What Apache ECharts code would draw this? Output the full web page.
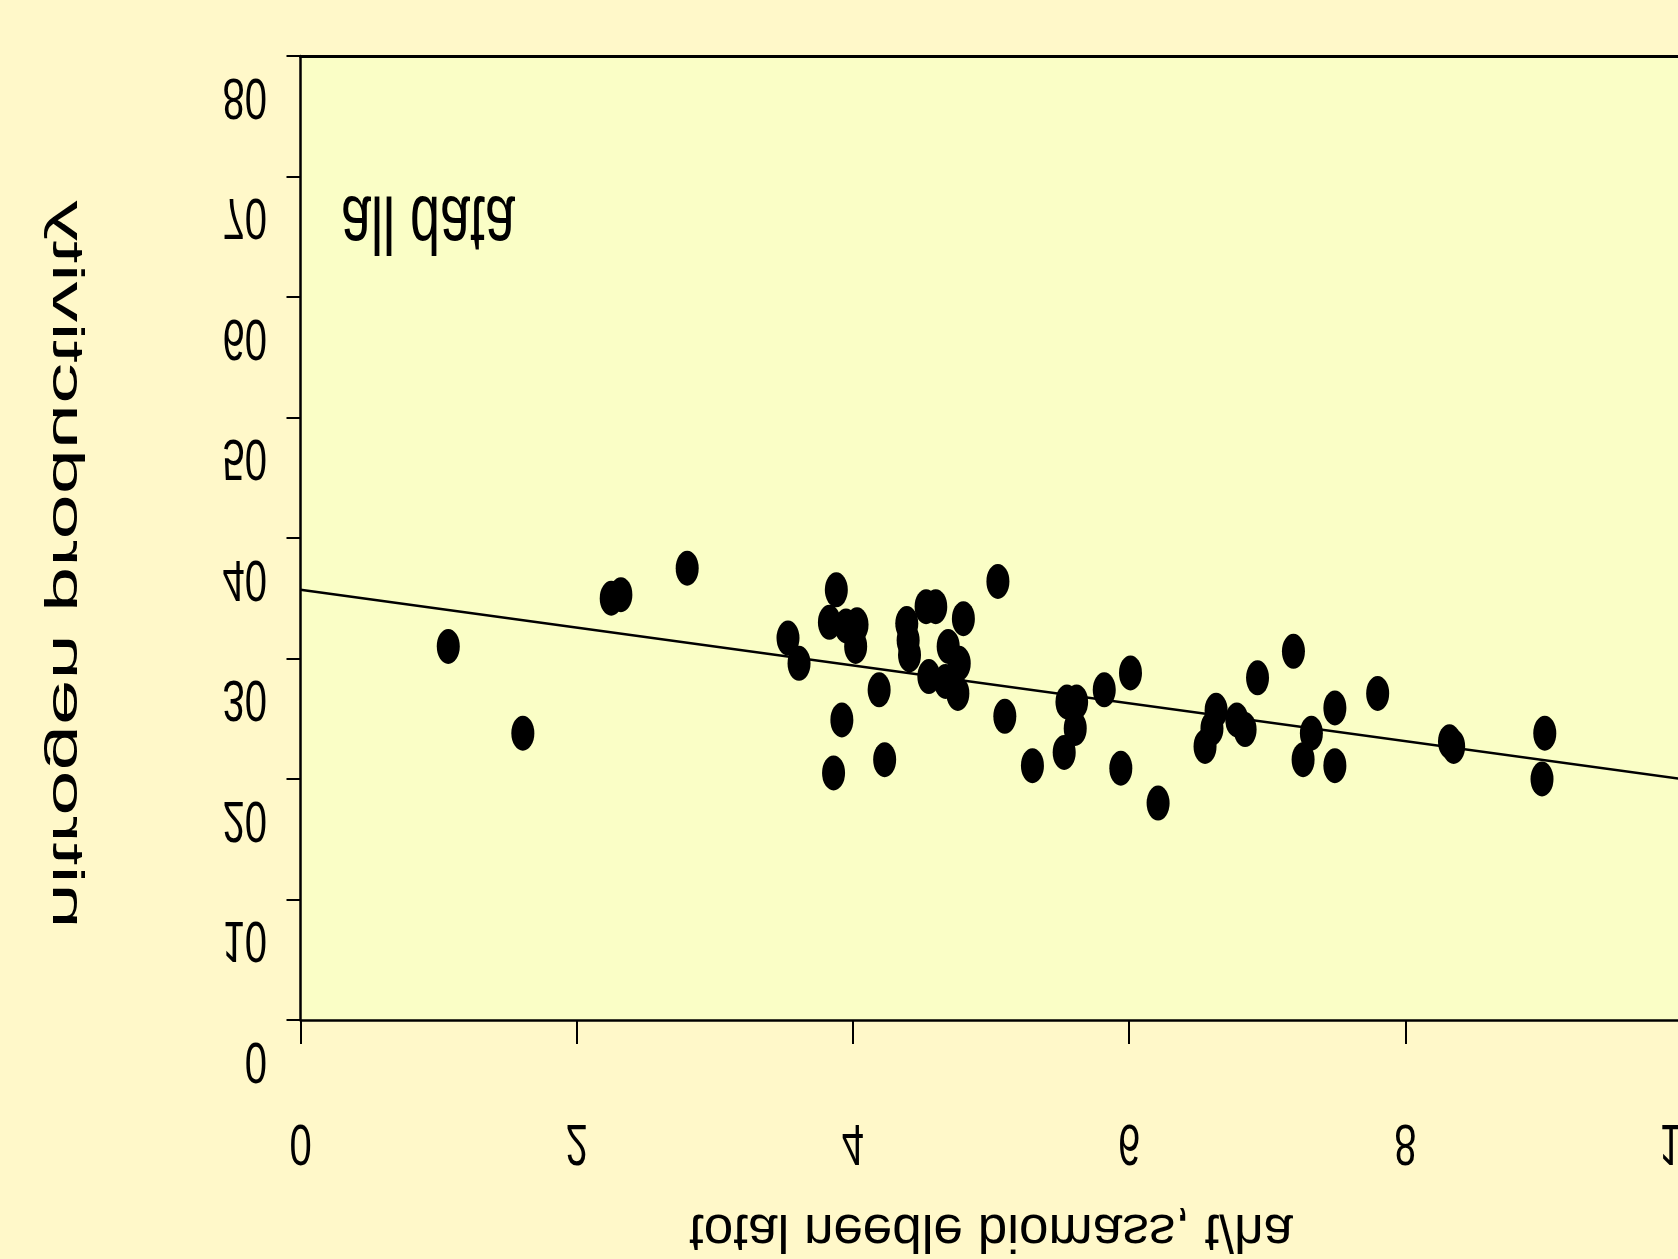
<!DOCTYPE html>
<html>
<head>
<meta charset="utf-8">
<script src="https://cdn.jsdelivr.net/npm/echarts@6/dist/echarts.min.js"></script>
<style>
html,body{margin:0;padding:0;background:#FFF8C9;}
#chart{width:1678px;height:1259px;}
</style>
</head>
<body>
<div id="chart"></div>
<script>
// ---- data ----
var biomass = [1.07,1.61,2.25,2.32,2.80,3.53,3.61,3.88,3.83,3.95,4.03,4.02,3.92,4.19,3.86,4.23,
  4.39,4.40,4.41,4.53,4.60,4.80,4.69,4.55,4.67,4.77,4.76,5.05,5.10,5.30,5.55,5.62,5.61,5.53,
  5.82,6.01,5.94,6.21,6.63,6.60,6.55,6.78,6.84,6.93,7.19,7.32,7.26,7.49,7.49,7.80,8.32,8.35,9.01,8.99];
var productivity = [31.0,23.8,35.0,35.3,37.5,31.7,29.6,35.7,33.0,32.7,32.8,31.0,24.9,27.4,20.5,21.6,
  32.9,31.5,30.3,34.3,34.3,33.3,31.0,28.5,28.1,29.6,27.1,36.4,25.2,21.1,26.4,26.4,24.2,22.2,
  27.4,28.8,20.9,18.0,25.7,24.2,22.7,24.9,24.1,28.4,30.6,23.8,21.6,25.9,21.1,27.1,23.1,22.7,23.8,20.0];
var fitX = [0, 10];
var fitY = [35.7, 20.0];
var xTicks = [0, 2, 4, 6, 8, 10];
var xTickLabels = ['0', '2', '4', '6', '8', '10'];
var yTicks = [0, 10, 20, 30, 40, 50, 60, 70, 80];
var yTickLabels = ['0', '10', '20', '30', '40', '50', '60', '70', '80'];
var xTitle = 'total needle biomass, t/ha';
var yTitle = 'nitrogen productivity';
var panelLabel = 'all data';

var points = biomass.map(function (x, i) { return [x, productivity[i]]; });
var fitLine = fitX.map(function (x, i) { return [x, fitY[i]]; });

var FONT = '"Liberation Sans", Arial, Helvetica, sans-serif';
var ellipse = 'path://M0,50 A50,50 0 1,1 100,50 A50,50 0 1,1 0,50 Z';

var chart = echarts.init(document.getElementById('chart'), null, {renderer: 'canvas'});
chart.setOption({
  backgroundColor: '#FFF8C9',
  animation: false,
  grid: {
    left: 300.5, top: 56, right: -3.5, bottom: 239,
    outerBoundsMode: 'none', containLabel: false,
    show: true, backgroundColor: '#FAFEC6', borderWidth: 0
  },
  xAxis: [{
    type: 'value', min: 0, max: 10, interval: 2,
    axisLine: {show: true, lineStyle: {color: '#000', width: 2.5}},
    axisTick: {show: true, length: 24, lineStyle: {color: '#000', width: 2}},
    axisLabel: {show: false},
    splitLine: {show: false}
  }, {
    type: 'value', min: 0, max: 10, position: 'top',
    axisLine: {show: true, lineStyle: {color: '#000', width: 3}},
    axisTick: {show: false}, axisLabel: {show: false}, splitLine: {show: false}
  }],
  yAxis: {
    type: 'value', min: 0, max: 80, interval: 10,
    axisLine: {show: true, lineStyle: {color: '#000', width: 2.5}},
    axisTick: {show: true, length: 14, lineStyle: {color: '#000', width: 2}},
    axisLabel: {show: false},
    splitLine: {show: false}
  },
  series: [{
    type: 'line', data: fitLine, symbol: 'none', silent: true,
    lineStyle: {color: '#000', width: 2.5}, z: 2
  }, {
    type: 'scatter', data: points, symbol: ellipse, symbolSize: [23, 35],
    itemStyle: {color: '#000', opacity: 1}, z: 3
  }]
});

var g = [];
xTicks.forEach(function (v, i) {
  var p = chart.convertToPixel({gridIndex: 0}, [v, 0]);
  g.push({type: 'text', x: p[0], y: 1141, scaleX: 1, scaleY: -1.45, z: 10,
    style: {text: xTickLabels[i], font: '40px ' + FONT, fill: '#000', align: 'center', verticalAlign: 'middle'}});
});
yTicks.forEach(function (v, i) {
  var p = chart.convertToPixel({gridIndex: 0}, [0, v]);
  g.push({type: 'text', x: 267, y: p[1] + 38.5, scaleX: 1, scaleY: -1.45, z: 10,
    style: {text: yTickLabels[i], font: '40px ' + FONT, fill: '#000', align: 'right', verticalAlign: 'middle'}});
});
g.push({type: 'text', x: 991, y: 1229.5, scaleX: 1, scaleY: -1, z: 10,
  style: {text: xTitle, font: '53px ' + FONT, fill: '#000', align: 'center', verticalAlign: 'middle'}});
g.push({type: 'text', x: 65.5, y: 564.5, rotation: Math.PI / 2, scaleX: 1.85, scaleY: -1, z: 10,
  style: {text: yTitle, font: '44px ' + FONT, fill: '#000', align: 'center', verticalAlign: 'middle'}});
g.push({type: 'text', x: 341, y: 219.5, scaleX: 1, scaleY: -1.52, z: 10,
  style: {text: panelLabel, font: '54px ' + FONT, fill: '#000', align: 'left', verticalAlign: 'middle'}});
chart.setOption({graphic: g});
</script>
</body>
</html>
